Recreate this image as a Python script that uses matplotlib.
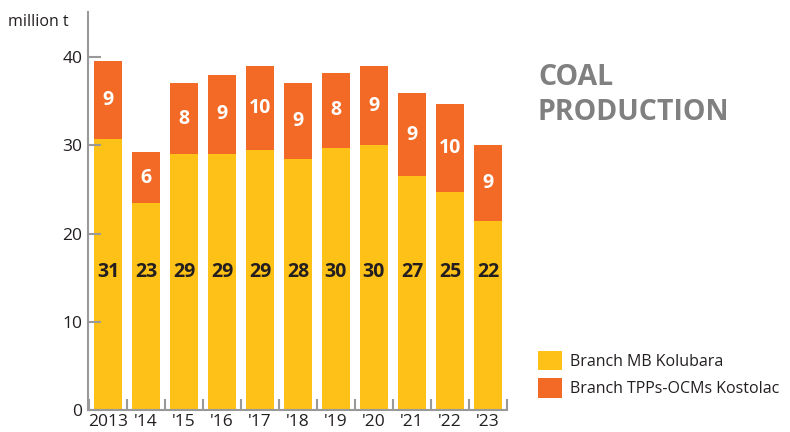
import matplotlib.pyplot as plt
import numpy as np

# Werte (Mio. t)
years = ['2013', "'14", "'15", "'16", "'17", "'18", "'19", "'20", "'21", "'22", "'23"]
kolubara = [30.7, 23.4, 29.0, 29.0, 29.5, 28.4, 29.7, 30.0, 26.5, 24.7, 21.4]
kostolac = [8.8, 5.8, 8.05, 9.0, 9.5, 8.65, 8.5, 9.0, 9.4, 10.0, 8.6]
kolubara_labels = ['31', '23', '29', '29', '29', '28', '30', '30', '27', '25', '22']
kostolac_labels = ['9', '6', '8', '9', '10', '9', '8', '9', '9', '10', '9']

yellow = '#FDC117'
orange = '#F26A25'
grey = '#999999'

plt.rcParams['font.family'] = ['Open Sans', 'DejaVu Sans']

fig = plt.figure(figsize=(7.9, 4.32), dpi=100)
ax = fig.add_axes([88 / 790, 22 / 432, 419 / 790, 398 / 432])

x = np.arange(len(years))
ax.bar(x, kolubara, width=0.74, color=yellow, label='Branch MB Kolubara')
ax.bar(x, kostolac, width=0.74, bottom=kolubara, color=orange,
       label='Branch TPPs-OCMs Kostolac')

# Beschriftungen in den Balken
for i in range(len(years)):
    ax.text(x[i], 15.6, kolubara_labels[i], ha='center', va='center',
            fontsize=14, fontweight='bold', color='#231F20')
    ax.text(x[i], kolubara[i] + kostolac[i] / 2, kostolac_labels[i],
            ha='center', va='center', fontsize=14, fontweight='bold',
            color='white')

ax.set_xlim(-0.526, 10.5)
ax.set_ylim(0, 45.1)
ax.set_yticks([0, 10, 20, 30, 40])
ax.set_xticks(x)
ax.set_xticklabels(years)
ax.set_xticks(np.arange(-0.5, 11, 1), minor=True)

for s in ['top', 'right']:
    ax.spines[s].set_visible(False)
for s in ['left', 'bottom']:
    ax.spines[s].set_color(grey)
    ax.spines[s].set_linewidth(1.5)

ax.tick_params(axis='y', direction='in', length=9, width=1.5, color=grey,
               labelsize=12.5, labelcolor='#231F20', pad=4)
ax.tick_params(axis='x', which='major', length=0, labelsize=12.5,
               labelcolor='#231F20', pad=3)
ax.tick_params(axis='x', which='minor', direction='in', length=8,
               width=1.5, color=grey)

fig.text(8 / 790, 1 - 22 / 432, 'million t', fontsize=11.5, color='#231F20',
         va='center', ha='left')

fig.text(538 / 790, 1 - 95 / 432, 'COAL\nPRODUCTION', fontsize=20.5,
         fontweight='bold', color='#808080', va='center', ha='left',
         linespacing=1.25)

ax.legend(loc='lower left', bbox_to_anchor=(524 / 790, 20 / 432),
          bbox_transform=fig.transFigure, frameon=False, fontsize=11.5,
          handlelength=1.5, handleheight=1.5, handletextpad=0.45,
          labelspacing=0.5, labelcolor='#231F20')

fig.savefig('out.png', dpi=100)
